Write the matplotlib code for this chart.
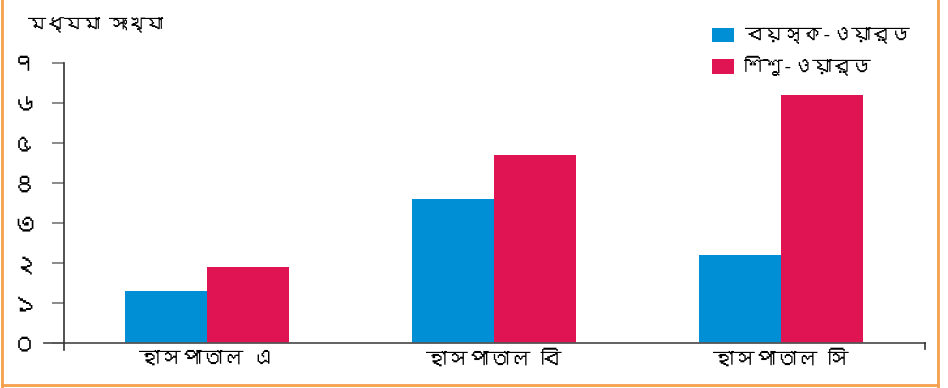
import matplotlib
matplotlib.use("Agg")
import matplotlib.pyplot as plt
from matplotlib import font_manager
from matplotlib.ft2font import FT2Font
from matplotlib.lines import Line2D
import numpy as np

# data
hospitals = ["হাসপাতাল এ", "হাসপাতাল বি", "হাসপাতাল সি"]
adult_ward = [1.3, 3.6, 2.2]
child_ward = [1.9, 4.7, 6.2]
series_names = ["বয়স্ক-ওয়ার্ড", "শিশু-ওয়ার্ড"]
y_ticks = [0, 1, 2, 3, 4, 5, 6, 7]
y_tick_labels = ["০", "১", "২", "৩", "৪", "৫", "৬", "৭"]
y_title = "মধ্যমা সংখ্যা"


def find_bengali_font():
    # pick any installed font that has Bengali glyphs
    for f in font_manager.fontManager.ttflist:
        try:
            cmap = FT2Font(f.fname).get_charmap()
        except Exception:
            continue
        if 0x0995 in cmap and 0x09BE in cmap:
            return f.name
    return None


bn = find_bengali_font()
families = [bn, "DejaVu Sans"] if bn else ["DejaVu Sans"]
plt.rcParams["font.family"] = families

blue = "#008ED4"
red = "#E01452"

W, H = 948, 388
fig = plt.figure(figsize=(W / 100, H / 100), dpi=100)
ax = fig.add_axes([63.5 / W, (H - 343) / H, 861 / W, 280 / H])

x = np.arange(len(hospitals))
bw = 82 / 287
ax.bar(x - bw / 2, adult_ward, bw, color=blue, label=series_names[0])
ax.bar(x + bw / 2, child_ward, bw, color=red, label=series_names[1])

ax.set_xlim(-0.5, 2.5)
ax.set_ylim(0, 7)
for s in ax.spines.values():
    s.set_visible(False)

ax.set_yticks(y_ticks)
ax.set_yticklabels(y_tick_labels, fontsize=18)
ax.tick_params(axis="y", length=9, width=1.2, color="#777777", pad=10)
ax.set_xticks(x)
ax.set_xticklabels(hospitals, fontsize=15)
ax.tick_params(axis="x", length=0, pad=5)

# axis lines: the baseline overhangs the left side, the vertical runs below zero
ax.add_line(Line2D([-20 / 861, 1], [0, 0], transform=ax.transAxes,
                   color="#555555", lw=1.3, clip_on=False))
ax.add_line(Line2D([0, 0], [-7 / 280, 1], transform=ax.transAxes,
                   color="#333333", lw=1.2, clip_on=False))
ax.add_line(Line2D([1, 1], [0, -6 / 280], transform=ax.transAxes,
                   color="#333333", lw=1.2, clip_on=False))

fig.text(28 / W, (H - 25) / H, y_title, fontsize=13, va="center", ha="left")

leg = ax.legend(loc="upper left", bbox_to_anchor=(694 / W, (H - 10) / H),
                bbox_transform=fig.transFigure, frameon=False, fontsize=14,
                handlelength=1.15, handleheight=0.75, handletextpad=0.5,
                labelspacing=0.6)

# frame around the figure
border = "#F4A04C"
fig.add_artist(Line2D([2 / W, 2 / W], [0, 1], color=border, lw=2))
fig.add_artist(Line2D([938 / W, 938 / W], [0, 1], color=border, lw=2))
fig.add_artist(Line2D([2 / W, 938 / W], [(H - 385) / H] * 2, color=border, lw=2))

fig.savefig("out.png", dpi=100)
